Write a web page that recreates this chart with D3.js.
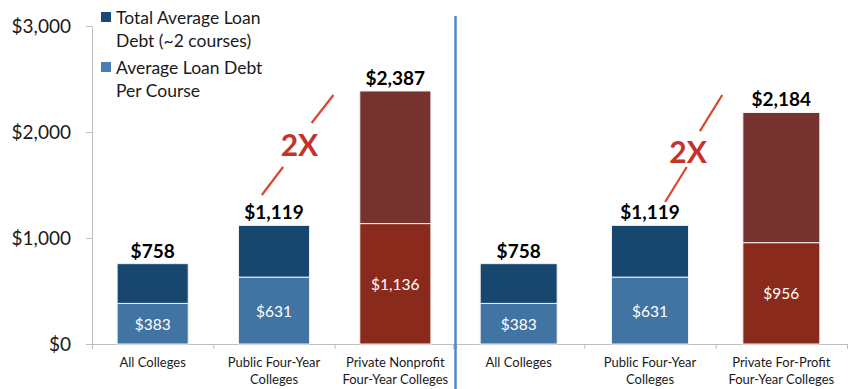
<!DOCTYPE html>
<html>
<head>
<meta charset="utf-8">
<script src="https://cdn.jsdelivr.net/npm/d3@7"></script>
<style>
  html, body { margin: 0; padding: 0; background: #fff; }
  svg { display: block; font-family: Lato, "Liberation Sans", sans-serif; }
</style>
</head>
<body>
<svg id="chart" width="857" height="389"></svg>
<script>
// ---- data ----
const leftCategories = [["All Colleges"], ["Public Four-Year", "Colleges"], ["Private Nonprofit", "Four-Year Colleges"]];
const leftTotal = [758, 1119, 2387];
const leftPerCourse = [383, 631, 1136];

const rightCategories = [["All Colleges"], ["Public Four-Year", "Colleges"], ["Private For-Profit", "Four-Year Colleges"]];
const rightTotal = [758, 1119, 2184];
const rightPerCourse = [383, 631, 956];

const yTicks = [0, 1000, 2000, 3000];
const legendLabels = [["Total Average Loan", "Debt (~2 courses)"], ["Average Loan Debt", "Per Course"]];
const calloutText = "2X";

// ---- styles ----
const colors = {
  publicTop: "#17476F", publicBottom: "#4174A3",
  privateTop: "#76322F", privateBottom: "#8A2A1C",
  legendTop: "#1B4B75", legendBottom: "#4A7DB3",
  axis: "#BFBFBF", divider: "#4F88C8", callout: "#C4322A", calloutLine: "#D8472D"
};

const svg = d3.select("#chart");
const y = d3.scaleLinear().domain([0, 3000]).range([344, 26]);
const fmt = v => "$" + d3.format(",")(v);

// y axis
const yAxis = svg.append("g").attr("transform", "translate(92,0)")
  .call(d3.axisLeft(y).tickValues(yTicks).tickFormat(fmt).tickSize(6).tickPadding(15).tickSizeOuter(0));
yAxis.select(".domain").attr("stroke", colors.axis);
yAxis.selectAll(".tick line").attr("stroke", colors.axis);
yAxis.selectAll(".tick text").attr("font-size", 19).attr("fill", "#1a1a1a")
  .attr("font-family", "Lato, sans-serif").attr("dy", "0.35em");

function panel(x0, x1, cats, totals, perCourse, annot) {
  const idx = d3.range(cats.length);
  const x = d3.scaleBand().domain(idx).range([x0, x1]).padding(0);
  const xl = d3.scaleLinear().domain([0, cats.length]).range([x0, x1]);
  const bw = x.bandwidth() * 0.586;
  const bx = i => x(i) + (x.bandwidth() - bw) / 2;
  const isPrivate = i => i === cats.length - 1;

  // x axis with ticks on category boundaries
  const xa = svg.append("g").attr("transform", `translate(0,${y(0)})`)
    .call(d3.axisBottom(xl).tickValues(d3.range(cats.length + 1)).tickFormat("").tickSize(5).tickSizeOuter(0));
  xa.select(".domain").attr("stroke", colors.axis);
  xa.selectAll(".tick line").attr("stroke", colors.axis);

  const g = svg.append("g");
  // bottom segment: per course
  g.selectAll("rect.bottom").data(idx).join("rect").attr("class", "bottom")
    .attr("x", bx).attr("width", bw)
    .attr("y", i => y(perCourse[i])).attr("height", i => y(0) - y(perCourse[i]))
    .attr("fill", i => isPrivate(i) ? colors.privateBottom : colors.publicBottom)
    .attr("stroke", "#f2f2f2").attr("stroke-width", 1);
  // top segment: remainder of total
  g.selectAll("rect.top").data(idx).join("rect").attr("class", "top")
    .attr("x", bx).attr("width", bw)
    .attr("y", i => y(totals[i])).attr("height", i => y(perCourse[i]) - y(totals[i]))
    .attr("fill", i => isPrivate(i) ? colors.privateTop : colors.publicTop)
    .attr("stroke", "#f2f2f2").attr("stroke-width", 1);

  // value labels
  g.selectAll("text.inner").data(idx).join("text").attr("class", "inner")
    .attr("x", i => x(i) + x.bandwidth() / 2)
    .attr("y", i => (y(0) + y(perCourse[i])) / 2 + 6)
    .attr("text-anchor", "middle").attr("fill", "#fff").attr("font-size", 15.5)
    .text(i => fmt(perCourse[i]));
  g.selectAll("text.total").data(idx).join("text").attr("class", "total")
    .attr("x", i => x(i) + x.bandwidth() / 2)
    .attr("y", i => y(totals[i]) - 6)
    .attr("text-anchor", "middle").attr("fill", "#000").attr("font-size", 19).attr("font-weight", 700)
    .text(i => fmt(totals[i]));

  // category labels
  const cl = g.selectAll("text.cat").data(idx).join("text").attr("class", "cat")
    .attr("x", i => x(i) + x.bandwidth() / 2).attr("y", 367)
    .attr("text-anchor", "middle").attr("fill", "#1a1a1a").attr("font-size", 13);
  cl.selectAll("tspan").data(i => cats[i].map(t => ({ t, x: x(i) + x.bandwidth() / 2 })))
    .join("tspan").attr("x", d => d.x).attr("dy", (d, k) => k ? 17 : 0).text(d => d.t);

  // "2X" callout between the public and private bars (positions in band / value units)
  const px = u => xl(u);
  annot.segments.forEach(s => {
    g.append("line")
      .attr("x1", px(s[0])).attr("y1", y(s[1])).attr("x2", px(s[2])).attr("y2", y(s[3]))
      .attr("stroke", colors.calloutLine).attr("stroke-width", 2.2);
  });
  g.append("text").attr("x", px(annot.text[0])).attr("y", y(annot.text[1]) + 11)
    .attr("text-anchor", "middle").attr("font-size", 30).attr("font-weight", 700)
    .attr("fill", colors.callout).text(calloutText);
}

panel(92, 456, leftCategories, leftTotal, leftPerCourse, {
  segments: [[1.40, 1406, 1.575, 1670], [1.81, 2085, 1.99, 2349]],
  text: [1.71, 1877]
});
panel(453, 847, rightCategories, rightTotal, rightPerCourse, {
  segments: [[1.615, 1340, 1.78, 1670], [1.88, 2009, 2.05, 2349]],
  text: [1.79, 1811]
});

// divider between panels
svg.append("line").attr("x1", 455.5).attr("x2", 455.5).attr("y1", 16).attr("y2", 389)
  .attr("stroke", colors.divider).attr("stroke-width", 2.5);

// legend
const legend = svg.append("g");
const legendColors = [colors.legendTop, colors.legendBottom];
legendLabels.forEach((lines, k) => {
  const top = 12 + k * 50;
  legend.append("rect").attr("x", 101).attr("y", top).attr("width", 10).attr("height", 10)
    .attr("fill", legendColors[k]);
  const t = legend.append("text").attr("x", 116).attr("y", top + 12)
    .attr("font-size", 17.5).attr("fill", "#1a1a1a");
  lines.forEach((s, j) => t.append("tspan").attr("x", 116).attr("dy", j ? 23 : 0).text(s));
});
</script>
</body>
</html>
